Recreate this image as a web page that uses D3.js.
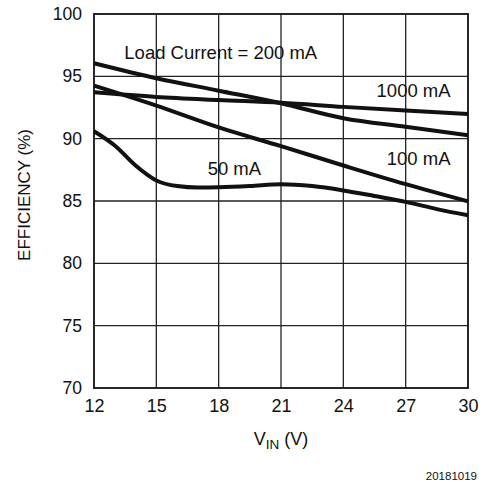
<!DOCTYPE html>
<html><head><meta charset="utf-8">
<script src="https://cdn.jsdelivr.net/npm/d3@7"></script>
<style>body{margin:0;background:#fff}svg{display:block}text{font-family:"Liberation Sans",Arial,sans-serif;fill:#111}</style>
</head><body><svg id="c" width="482" height="485"></svg>
<script>
const xTicks = [12, 15, 18, 21, 24, 27, 30];
const yTicks = [70, 75, 80, 85, 90, 95, 100];
const vin200 = [12, 15, 18, 21, 24, 27, 30];
const eff200 = [96.05, 94.85, 93.85, 92.84, 91.64, 90.95, 90.28];
const vin1000 = [12, 15, 18, 21, 24, 27, 30];
const eff1000 = [93.72, 93.35, 93.1, 92.88, 92.55, 92.25, 91.97];
const vin100 = [12, 15, 18, 21, 24, 27, 30];
const eff100 = [94.25, 92.65, 90.9, 89.4, 87.85, 86.35, 84.97];
const vin50 = [12, 13, 14, 15, 16, 17, 18, 19.5, 21, 22.5, 24, 25.5, 27, 28.5, 30];
const eff50 = [90.6, 89.45, 87.85, 86.65, 86.2, 86.08, 86.1, 86.2, 86.35, 86.2, 85.85, 85.4, 84.93, 84.35, 83.85];
const labels = [
  {text: "Load Current = 200 mA", v: 13.46, e: 96.37},
  {text: "1000 mA", v: 25.6, e: 93.37},
  {text: "100 mA", v: 26.09, e: 87.89},
  {text: "50 mA", v: 17.47, e: 87.09}
];

const svg = d3.select("#c");
const L = 94, R = 468, T = 14, B = 388;
const x = d3.scaleLinear().domain([12, 30]).range([L, R]);
const y = d3.scaleLinear().domain([70, 100]).range([B, T]);

// grid
const g = svg.append("g");
g.selectAll(".vx").data(xTicks.slice(1, -1)).join("line")
  .attr("x1", d => x(d)).attr("x2", d => x(d)).attr("y1", T).attr("y2", B)
  .attr("stroke", "#222").attr("stroke-width", 1.3);
g.selectAll(".hy").data(yTicks.slice(1, -1)).join("line")
  .attr("y1", d => y(d)).attr("y2", d => y(d)).attr("x1", L).attr("x2", R)
  .attr("stroke", "#222").attr("stroke-width", 1.3);
svg.append("rect").attr("x", L).attr("y", T).attr("width", R - L).attr("height", B - T)
  .attr("fill", "none").attr("stroke", "#111").attr("stroke-width", 1.8);

// axes (labels only)
const xAxis = d3.axisBottom(x).tickValues(xTicks).tickSize(0).tickPadding(11);
const ax = svg.append("g").attr("transform", `translate(0,${B})`).call(xAxis);
ax.select(".domain").remove();
ax.selectAll("text").style("font-size", "18px").style("font-family", "Liberation Sans, Arial, sans-serif").attr("fill", "#111");
const yAxis = d3.axisLeft(y).tickValues(yTicks).tickSize(0).tickPadding(12);
const ay = svg.append("g").attr("transform", `translate(${L},0)`).call(yAxis);
ay.select(".domain").remove();
ay.selectAll("text").style("font-size", "17.5px").style("font-family", "Liberation Sans, Arial, sans-serif").attr("fill", "#111");

// curves
const series = [[vin200, eff200], [vin1000, eff1000], [vin100, eff100], [vin50, eff50]];
const line = d3.line().x(d => x(d[0])).y(d => y(d[1])).curve(d3.curveMonotoneX);
series.forEach(([vs, es]) => {
  svg.append("path").datum(vs.map((v, i) => [v, es[i]])).attr("d", line)
    .attr("fill", "none").attr("stroke", "#111").attr("stroke-width", 4)
    .attr("stroke-linejoin", "round").attr("stroke-linecap", "butt");
});

// labels
svg.selectAll(".lbl").data(labels).join("text")
  .attr("x", d => x(d.v)).attr("y", d => y(d.e))
  .style("font-size", "18.5px").text(d => d.text);

// axis titles
svg.append("text").attr("transform", `translate(30,195) rotate(-90)`)
  .attr("text-anchor", "middle").style("font-size", "17px").text("EFFICIENCY (%)");
const xt = svg.append("text").attr("x", 281).attr("y", 445).attr("text-anchor", "middle").style("font-size", "18px");
xt.append("tspan").text("V");
xt.append("tspan").attr("dy", 3.5).style("font-size", "13.5px").text("IN");
xt.append("tspan").attr("dy", -3.5).text(" (V)");
svg.append("text").attr("x", 477).attr("y", 480).attr("text-anchor", "end").style("font-size", "11.5px").text("20181019");
</script></body></html>
